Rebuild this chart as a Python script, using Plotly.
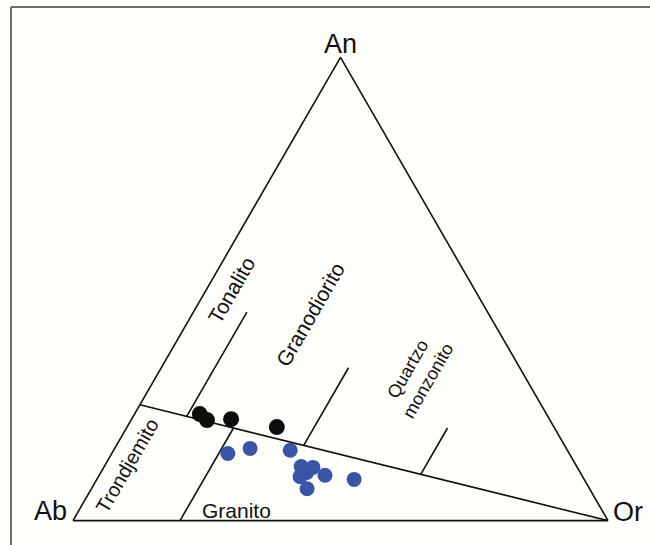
import plotly.graph_objects as go

# Corner end-members of the feldspar triangle
apex_labels = ["An", "Ab", "Or"]

# Field boundaries (fractions of An, Ab, Or) after O'Connor (1965)
main_an = [0.25, 0.0]
main_ab = [0.75, 0.0]
main_or = [0.0, 1.0]

ton_an = [0.225, 0.45]
ton_or = [0.10, 0.10]

gd_an = [0.1625, 0.33]
gd_or = [0.35, 0.35]

qm_an = [0.10, 0.20]
qm_or = [0.60, 0.60]

gr_an = [0.0, 0.20]
gr_or = [0.20, 0.20]

# Samples, first group (black)
blk_an = [0.230, 0.217, 0.219, 0.202]
blk_or = [0.122, 0.142, 0.186, 0.280]

# Samples, second group (blue)
blu_an = [0.145, 0.156, 0.152, 0.117, 0.115, 0.098, 0.095, 0.104, 0.069, 0.089]
blu_or = [0.217, 0.253, 0.330, 0.368, 0.391, 0.422, 0.377, 0.385, 0.403, 0.481]

# Field names
field_names = ["Tonalito", "Granodiorito", "Quartzo<br>monzonito", "Trondjemito", "Granito"]


def ab_of(an, orr):
    return [round(1 - a - o, 4) for a, o in zip(an, orr)]


LINE = dict(color="#111111", width=1.6)
FONT = "Liberation Sans, Arial, sans-serif"
BG = "#fefefb"

fig = go.Figure()

fig.add_trace(go.Scatterternary(a=main_an, b=main_ab, c=main_or, mode="lines", line=LINE))
for an, orr in [(ton_an, ton_or), (gd_an, gd_or), (qm_an, qm_or), (gr_an, gr_or)]:
    fig.add_trace(go.Scatterternary(a=an, b=ab_of(an, orr), c=orr, mode="lines", line=LINE))

fig.add_trace(go.Scatterternary(
    a=blk_an, b=ab_of(blk_an, blk_or), c=blk_or, mode="markers",
    marker=dict(size=16, color="#0d0d0d"),
))
fig.add_trace(go.Scatterternary(
    a=blu_an, b=ab_of(blu_an, blu_or), c=blu_or, mode="markers",
    marker=dict(size=15, color="#3a55a6"),
))

axis_style = dict(
    showgrid=False, showticklabels=False, ticks="", showline=True,
    linecolor="#111111", linewidth=1.6, title=dict(text=""),
)

# Plot area: l=73, t=57, w=535, h=464
L, T, W, H = 73, 57, 535, 464


def px(x, y):
    return (x - L) / W, (T + H - y) / H


annotations = []
for text, (x, y) in zip(apex_labels, [(340, 44), (50, 511), (628, 512)]):
    ax_, ay_ = px(x, y)
    annotations.append(dict(text=text, x=ax_, y=ay_, xref="paper", yref="paper",
                            showarrow=False, font=dict(size=27, color="#111", family=FONT),
                            xanchor="center", yanchor="middle"))

label_pos = [(231, 290), (310, 314), (417, 375), (127, 466), (236, 510)]
label_angle = [-60, -60, -60, -60, 0]
label_size = [21, 21, 18, 20, 21]
for text, (x, y), ang, sz in zip(field_names, label_pos, label_angle, label_size):
    ax_, ay_ = px(x, y)
    annotations.append(dict(text=text, x=ax_, y=ay_, xref="paper", yref="paper",
                            showarrow=False, textangle=ang,
                            font=dict(size=sz, color="#111", family=FONT),
                            xanchor="center", yanchor="middle"))

# Thin frame along the left and top of the figure
fx0, fy0 = px(11, 7)
fx1, fy1 = px(650, 545)
shapes = [
    dict(type="line", xref="paper", yref="paper", x0=fx0, x1=fx0, y0=fy0, y1=fy1,
         line=dict(color="#6e6e6e", width=2)),
    dict(type="line", xref="paper", yref="paper", x0=fx0, x1=fx1, y0=fy0, y1=fy0,
         line=dict(color="#6e6e6e", width=2)),
]

fig.update_layout(
    width=650, height=545,
    margin=dict(l=L, r=650 - L - W, t=T, b=545 - T - H),
    paper_bgcolor=BG, plot_bgcolor=BG,
    showlegend=False,
    ternary=dict(
        sum=1, bgcolor=BG,
        domain=dict(x=[0, 1], y=[0, 1]),
        aaxis=axis_style, baxis=axis_style, caxis=axis_style,
    ),
    annotations=annotations,
    shapes=shapes,
)

fig.write_html("out.html")
